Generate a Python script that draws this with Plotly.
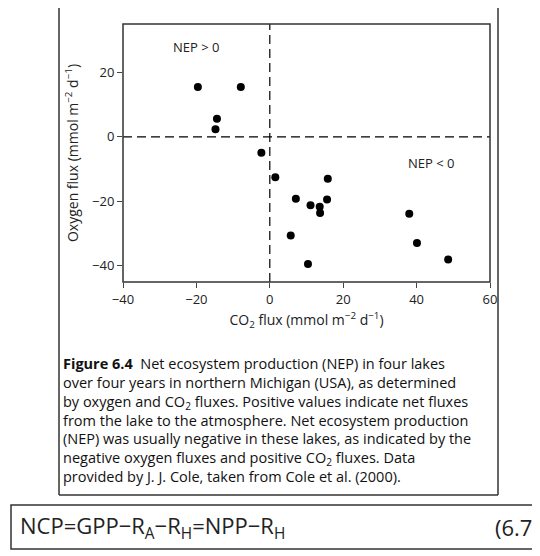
import plotly.graph_objects as go

co2_flux = [-19.6, -7.9, -14.4, -14.8, -2.3, 1.5, 15.8, 7.1, 15.6, 11.1, 13.6, 13.7, 5.7, 10.4, 38.0, 40.1, 48.6]
o2_flux = [15.5, 15.5, 5.6, 2.4, -4.9, -12.5, -13.0, -19.2, -19.4, -21.2, -21.7, -23.6, -30.6, -39.4, -23.8, -32.9, -38.0]
x_ticks = [-40, -20, 0, 20, 40, 60]
y_ticks = [-40, -20, 0, 20]

FONT = "Open Sans"
W, H = 540, 556
L, R, T, B = 115, 482, 16, 274

def px(x):
    return (x - L) / (R - L)

def py(y):
    return (B - y) / (B - T)

fig = go.Figure(go.Scatter(x=co2_flux, y=o2_flux, mode="markers",
                           marker=dict(color="black", size=8), showlegend=False))

shapes = [
    dict(type="line", xref="x", yref="paper", x0=0, x1=0, y0=0, y1=1,
         line=dict(color="black", width=1.2, dash="9px,5px")),
    dict(type="line", xref="paper", yref="y", x0=0, x1=1, y0=0, y1=0,
         line=dict(color="black", width=1.2, dash="9px,5px")),
    dict(type="rect", xref="paper", yref="paper", x0=0, x1=1, y0=0, y1=1,
         line=dict(color="#333", width=1.5)),
    dict(type="line", xref="paper", yref="paper", x0=px(51), x1=px(51), y0=py(-5), y1=py(487),
         line=dict(color="#333", width=1.5)),
    dict(type="line", xref="paper", yref="paper", x0=px(490), x1=px(490), y0=py(-5), y1=py(487),
         line=dict(color="#333", width=1.5)),
    dict(type="line", xref="paper", yref="paper", x0=px(51), x1=px(490), y0=py(487), y1=py(487),
         line=dict(color="#333", width=1.5)),
    dict(type="rect", xref="paper", yref="paper", x0=px(3), x1=px(537), y0=py(541), y1=py(497),
         line=dict(color="#333", width=1.5)),
]

caption = ("<b>Figure 6.4</b>  Net ecosystem production (NEP) in four lakes<br>"
           "over four years in northern Michigan (USA), as determined<br>"
           "by oxygen and CO<sub>2</sub> fluxes. Positive values indicate net fluxes<br>"
           "from the lake to the atmosphere. Net ecosystem production<br>"
           "(NEP) was usually negative in these lakes, as indicated by the<br>"
           "negative oxygen fluxes and positive CO<sub>2</sub> fluxes. Data<br>"
           "provided by J. J. Cole, taken from Cole et al. (2000).")

annotations = [
    dict(x=-20, y=28, xref="x", yref="y", text="NEP > 0", showarrow=False,
         font=dict(size=13, color="#222", family=FONT)),
    dict(x=44, y=-8, xref="x", yref="y", text="NEP < 0", showarrow=False,
         font=dict(size=13, color="#222", family=FONT)),
    dict(x=px(53), y=py(344), xref="paper", yref="paper", xanchor="left", yanchor="top",
         align="left", text=caption, showarrow=False,
         font=dict(size=14.5, color="#111", family=FONT)),
    dict(x=px(10), y=py(519), xref="paper", yref="paper", xanchor="left", yanchor="middle",
         text="NCP=GPP−R<sub>A</sub>−R<sub>H</sub>=NPP−R<sub>H</sub>", showarrow=False,
         font=dict(size=22, color="#222", family=FONT)),
    dict(x=px(533), y=py(519), xref="paper", yref="paper", xanchor="right", yanchor="middle",
         text="(6.7)", showarrow=False, font=dict(size=22, color="#222", family=FONT)),
]

fig.update_layout(
    width=W, height=H, margin=dict(l=L, r=W - R, t=T, b=H - B, autoexpand=False),
    plot_bgcolor="white", paper_bgcolor="white",
    shapes=shapes, annotations=annotations,
    font=dict(family=FONT, color="#222", size=13),
    xaxis=dict(range=[-40, 60], tickvals=x_ticks, ticks="outside", ticklen=5,
               showgrid=False, zeroline=False, showline=False, automargin=False,
               title=dict(text="CO<sub>2</sub> flux (mmol m<sup>−2</sup> d<sup>−1</sup>)", standoff=8,
                          font=dict(size=14))),
    yaxis=dict(range=[-45, 35], tickvals=y_ticks, ticks="outside", ticklen=5,
               showgrid=False, zeroline=False, showline=False, automargin=False,
               title=dict(text="Oxygen flux (mmol m<sup>−2</sup> d<sup>−1</sup>)", standoff=10,
                          font=dict(size=14))),
)

fig.write_html("out.html")
